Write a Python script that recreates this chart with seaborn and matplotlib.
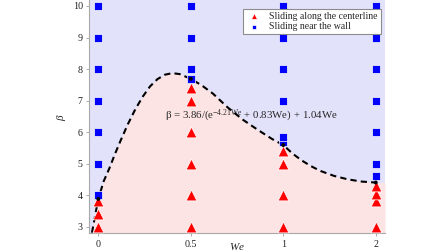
import numpy as np
import pandas as pd
import seaborn as sns
import matplotlib.pyplot as plt

# points: (We, beta)
center_we = [0, 0, 0, 0.5, 0.5, 0.5, 0.5, 0.5, 0.5, 1, 1, 1, 1, 2, 2, 2, 2]
center_beta = [3.0, 3.4, 3.8, 3.0, 4.0, 5.0, 6.0, 7.0, 7.4, 3.0, 4.0, 5.0, 5.4, 3.0, 3.8, 4.05, 4.3]

wall_we = [0, 0, 0, 0, 0, 0, 0, 0.5, 0.5, 0.5, 0.5, 1, 1, 1, 1, 1, 1, 2, 2, 2, 2, 2, 2, 2]
wall_beta = [4, 5, 6, 7, 8, 9, 10, 7.7, 8, 9, 10, 5.7, 5.85, 7, 8, 9, 10, 4.6, 5, 6, 7, 8, 9, 10]

# critical points (black dots)
crit_we = [0, 0.5, 1, 2]
crit_beta = [3.88, 7.69, 5.59, 4.40]

# dashed boundary
curve_we = [-0.034, 0.0, 0.03, 0.06, 0.09, 0.12, 0.16, 0.20, 0.24, 0.28, 0.32, 0.36,
            0.40, 0.44, 0.50, 0.56, 0.62, 0.70, 0.78, 0.86, 0.94, 1.00, 1.10, 1.20,
            1.30, 1.40, 1.55, 1.70, 1.85, 2.00]
curve_beta = [2.81, 3.88, 4.45, 4.85, 5.30, 5.72, 6.25, 6.72, 7.12, 7.45, 7.68, 7.82,
              7.87, 7.84, 7.69, 7.48, 7.22, 6.78, 6.40, 6.08, 5.78, 5.59, 5.32, 5.10,
              4.92, 4.77, 4.61, 4.50, 4.43, 4.40]

xticks = [0, 0.5, 1, 2]
xtick_labels = ['0', '0.5', '1', '2']
yticks = [3, 4, 5, 6, 7, 8, 9, 10]

label_center = 'Sliding along the centerline'
label_wall = 'Sliding near the wall'
formula = u'\u03b2 = 3.86/(e$^{\\mathrm{-4.21We}}$ + 0.83We) + 1.04We'

xmin, xmax = -0.05, 2.1
ymin, ymax = 2.79, 10.19

df_center = pd.DataFrame({'We': center_we, 'beta': center_beta})
df_wall = pd.DataFrame({'We': wall_we, 'beta': wall_beta})
df_crit = pd.DataFrame({'We': crit_we, 'beta': crit_beta})
df_curve = pd.DataFrame({'We': curve_we, 'beta': curve_beta})

sns.set_theme(style='ticks')
plt.rcParams['font.family'] = ['Liberation Serif', 'DejaVu Serif']
plt.rcParams['mathtext.fontset'] = 'custom'
plt.rcParams['mathtext.rm'] = 'Liberation Serif'
plt.rcParams['mathtext.it'] = 'Liberation Serif:italic'


def fwd(x):
    x = np.asarray(x, dtype=float)
    return np.where(x <= 1, x, 1 + (x - 1) / 2)


def inv(y):
    y = np.asarray(y, dtype=float)
    return np.where(y <= 1, y, 1 + 2 * (y - 1))


fig = plt.figure(figsize=(4.48, 2.52), dpi=100)
ax = fig.add_axes([89 / 448, 1 - 233.3 / 252, 296 / 448, 233.3 / 252])
ax.set_facecolor('#e2e2fb')

# pink region under the boundary
fill_we = curve_we + [xmax]
fill_beta = curve_beta + [curve_beta[-1]]
ax.fill_between(fill_we, 0, fill_beta, color='#fde4e4', lw=0, zorder=0.5)

ax.text(0.36, 6.5, formula, fontsize=7.8, va='center', ha='left', zorder=1.5)

sns.lineplot(data=df_curve, x='We', y='beta', sort=False, estimator=None, ax=ax,
             color='black', lw=1.5, linestyle=(0, (3, 2)), zorder=2)

sns.scatterplot(data=df_center, x='We', y='beta', ax=ax, marker='^', s=60,
                color='#ff0000', edgecolor='white', linewidth=0.5, zorder=3,
                label=label_center)
sns.scatterplot(data=df_wall, x='We', y='beta', ax=ax, marker='s', s=34,
                color='#0000ff', edgecolor='white', linewidth=0.5, zorder=3,
                label=label_wall)
sns.scatterplot(data=df_crit, x='We', y='beta', ax=ax, marker='o', s=8,
                color='black', edgecolor='none', zorder=4)

ax.set_xscale('function', functions=(fwd, inv))
ax.set_xlim(xmin, xmax)
ax.set_ylim(ymin, ymax)
ax.set_xticks(xticks)
ax.set_xticklabels(xtick_labels)
ax.set_yticks(yticks)
ax.minorticks_off()

ax.set_xlabel('$We$', fontsize=8)
ax.set_ylabel(r'$\beta$', fontsize=8)
ax.xaxis.set_label_coords(0.5, -0.035)
ax.yaxis.set_label_coords(-0.07, 0.5)

sns.despine(ax=ax)
for side in ['left', 'bottom']:
    ax.spines[side].set_color('#a8a8a8')
    ax.spines[side].set_linewidth(0.8)
ax.tick_params(direction='out', length=2.5, width=0.6, color='#a0a0a0',
               labelsize=7.2, labelcolor='#222222', pad=2)

leg = ax.legend(loc='upper right', bbox_to_anchor=(0.986, 0.961), borderaxespad=0,
                fontsize=7, frameon=True, fancybox=False, markerscale=0.55,
                handlelength=1.6, handletextpad=0.8, labelspacing=0.15,
                borderpad=0.3)
leg.get_frame().set_edgecolor('#8c8c8c')
leg.get_frame().set_linewidth(0.8)
leg.get_frame().set_alpha(1)

fig.savefig('out.png', dpi=100)
